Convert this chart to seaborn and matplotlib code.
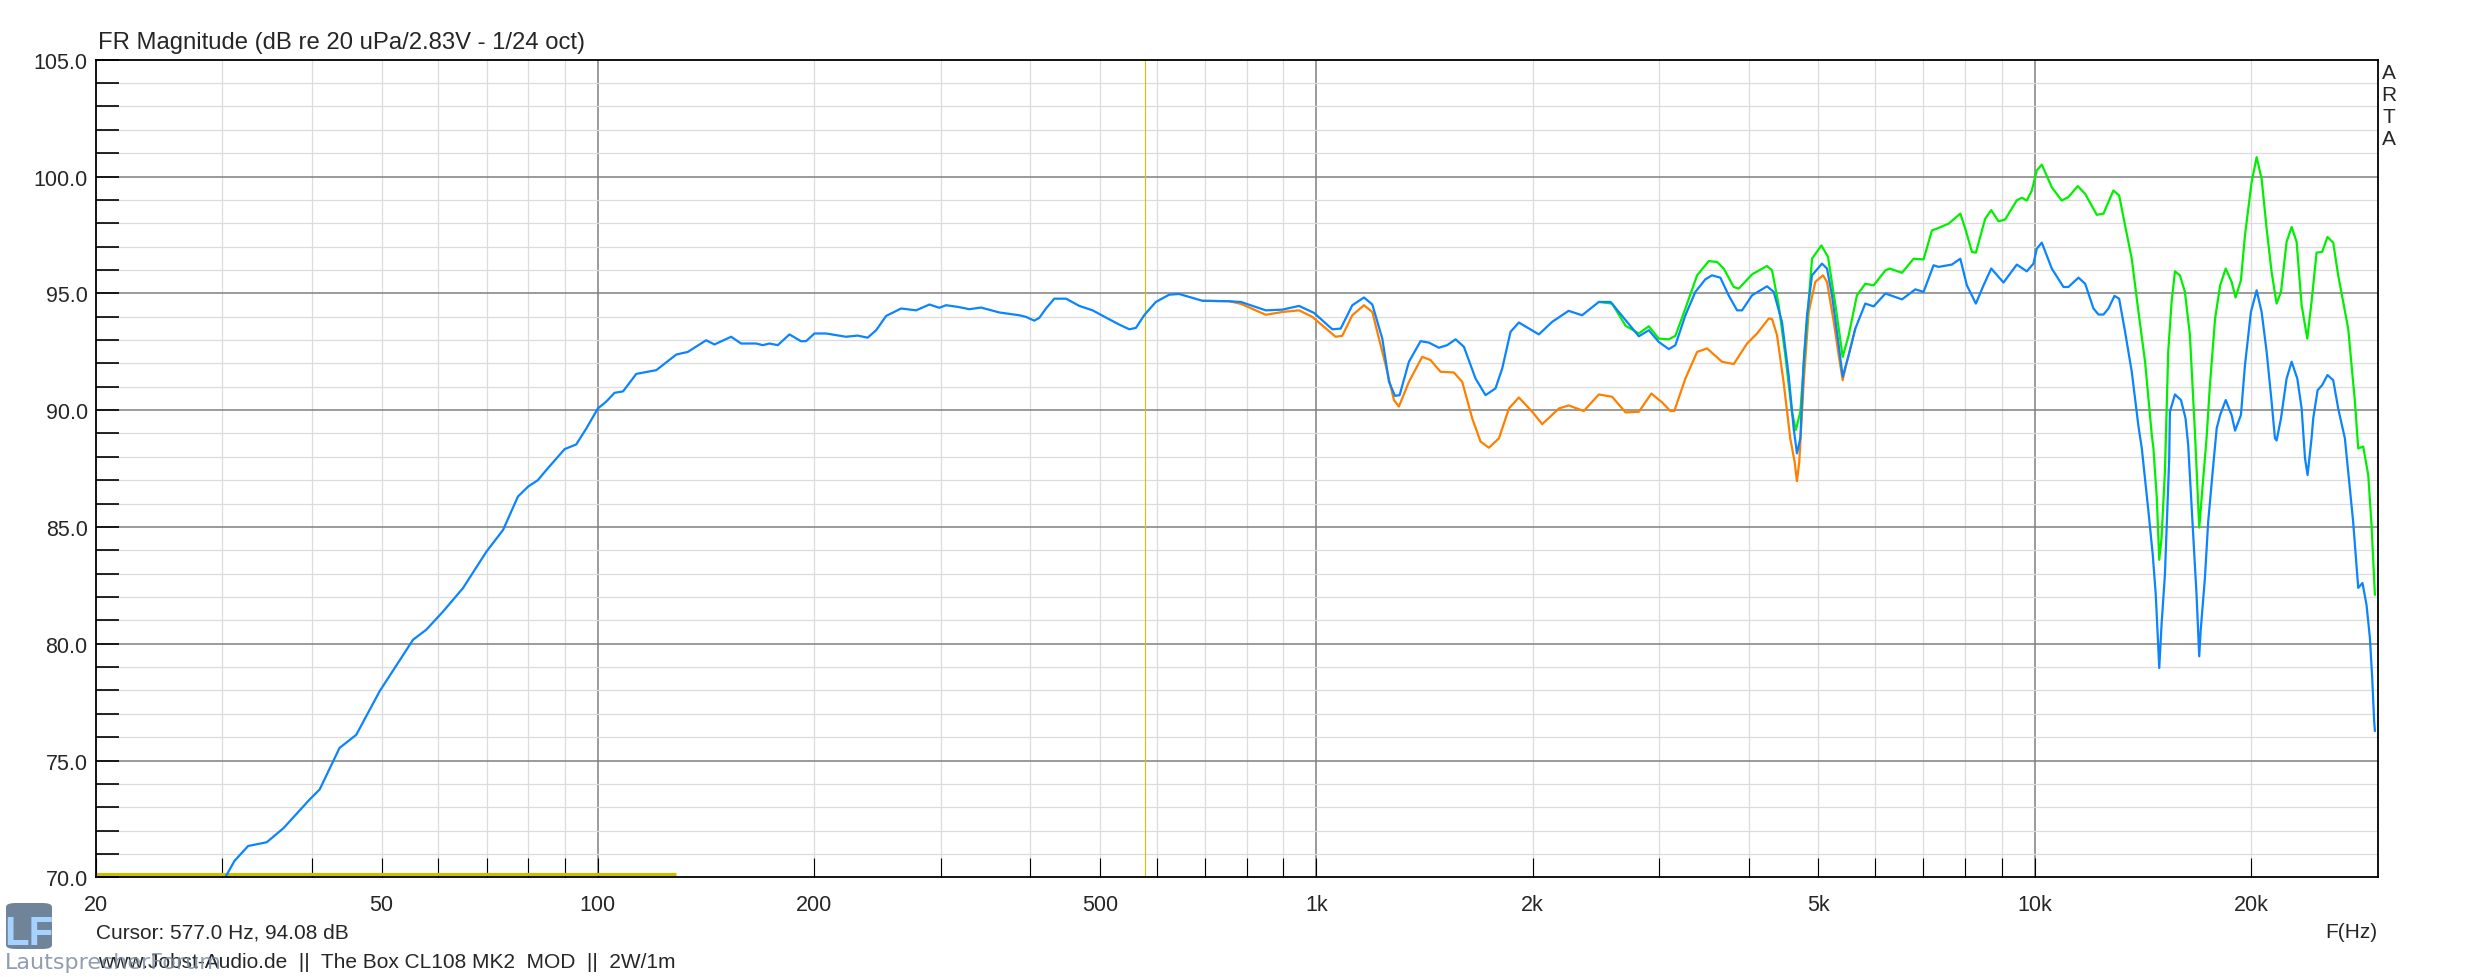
import numpy as np
import matplotlib
matplotlib.use("Agg")
import matplotlib.pyplot as plt
import seaborn as sns
from matplotlib.patches import FancyBboxPatch

blue_f = [30.3, 31.2, 32.6, 34.6, 36.5, 39.7, 41.0, 43.7, 46.1, 49.7, 55.3, 57.7, 60.9, 64.9, 70.0,
          73.8, 77.4, 80.0, 82.5, 84.8, 89.9, 93.3, 96.4, 100, 102.7, 105.5, 108.4, 113.1, 120.6,
          128.6, 133.4, 141.5, 145.3, 153.3, 158.3, 166.1, 169.7, 173.3, 178.0, 184.8, 191.7,
          194.9, 200.2, 207.8, 221.5, 229.9, 237.4, 244.0, 251.9, 264.3, 277.3, 289.4, 298.8,
          305.3, 316.8, 328.9, 341.5, 362, 386, 394.4, 405, 411.6, 420.5, 431.9, 448.4, 467.9,
          488.3, 509.7, 531.9, 549.2, 561, 576.6, 598, 624, 644.3, 694.3, 756.3, 785.2, 850.6,
          897, 946.2, 992.8, 1052.6, 1081.3, 1122.4, 1165.1, 1196.7, 1235.6, 1262.4, 1286.7,
          1306.1, 1345.7, 1396.8, 1434.6, 1481.3, 1521.2, 1562.7, 1605, 1666, 1720.2, 1776.1,
          1814.6, 1863.7, 1914.1, 2040.9, 2130, 2245, 2344, 2473.5, 2568, 2694.5, 2812, 2903,
          2997, 3095, 3161, 3264, 3370, 3480, 3555, 3651, 3750, 3852, 3914, 4041, 4240, 4332,
          4448, 4544, 4618, 4667, 4718, 4769, 4820, 4898, 5057, 5139, 5222, 5335, 5404, 5508,
          5627, 5810, 5968, 6196, 6535, 6820, 7003, 7231, 7348, 7668, 7878, 8046, 8281, 8487,
          8699, 9048, 9442, 9749, 9960, 10067, 10229, 10562, 10966, 11141, 11504, 11754, 12072,
          12267, 12465, 12665, 12913, 13107, 13360, 13648, 13945, 14095, 14398, 14599, 14740,
          14905, 15015, 15178, 15306, 15389, 15423, 15674, 15978, 16215, 16354, 16619, 16798,
          16943, 17018, 17254, 17437, 17723, 17918, 18116, 18445, 18795, 19006, 19365, 19617,
          19995, 20366, 20693, 21028, 21366, 21597, 21712, 22019, 22418, 22783, 23200, 23524,
          23780, 23977, 24283, 24417, 24760, 25125, 25557, 26030, 26450, 27022, 27310, 27746,
          28043, 28203, 28590, 28961, 29277, 29495, 29680, 29750]
blue_db = [70.0, 70.7, 71.34, 71.5, 72.1, 73.33, 73.76, 75.54, 76.1, 77.97, 80.17, 80.6, 81.38, 82.38,
           83.95, 84.87, 86.3, 86.73, 87.0, 87.44, 88.33, 88.53, 89.22, 90.07, 90.36, 90.74, 90.8,
           91.55, 91.71, 92.38, 92.49, 92.99, 92.81, 93.14, 92.85, 92.85, 92.78, 92.85, 92.78,
           93.24, 92.95, 92.95, 93.28, 93.28, 93.14, 93.19, 93.1, 93.42, 94.03, 94.35, 94.27,
           94.52, 94.38, 94.49, 94.42, 94.32, 94.39, 94.18, 94.06, 93.99, 93.83, 93.95, 94.35,
           94.77, 94.77, 94.46, 94.27, 93.96, 93.66, 93.46, 93.52, 94.08, 94.63, 94.94, 94.97,
           94.68, 94.66, 94.63, 94.27, 94.3, 94.46, 94.16, 93.46, 93.49, 94.49, 94.82, 94.52,
           93.06, 91.21, 90.61, 90.64, 92.07, 92.95, 92.89, 92.67, 92.78, 93.03, 92.71, 91.35,
           90.64, 90.93, 91.78, 93.35, 93.75, 93.24, 93.78, 94.25, 94.06, 94.63, 94.63, 93.85,
           93.16, 93.42, 92.92, 92.61, 92.78, 94.06, 95.06, 95.6, 95.77, 95.67, 94.91, 94.27,
           94.27, 94.91, 95.3, 95.06, 93.78, 91.5, 89.22, 88.15, 88.79, 92.07, 94.06, 95.77,
           96.27, 96.06, 94.91, 92.78, 91.43, 92.35, 93.49, 94.56, 94.44, 94.99, 94.74, 95.17,
           95.06, 96.2, 96.13, 96.23, 96.48, 95.34, 94.56, 95.34, 96.06, 95.46, 96.23, 95.94,
           96.27, 96.91, 97.17, 96.06, 95.27, 95.27, 95.67, 95.41, 94.35, 94.09, 94.09, 94.35,
           94.89, 94.77, 93.35, 91.64, 89.3, 88.36, 85.66, 83.8, 82.09, 78.96, 80.81, 82.95,
           85.94, 87.94, 89.93, 90.67, 90.43, 89.65, 88.5, 84.66, 82.09, 79.46, 80.53, 82.81,
           85.23, 87.65, 89.22, 89.79, 90.43, 89.79, 89.12, 89.79, 91.92, 94.2, 95.13, 94.2,
           92.5, 90.36, 88.79, 88.7, 89.65, 91.35, 92.07, 91.35, 90.07, 87.94, 87.22, 88.79,
           89.65, 90.85, 91.07, 91.5, 91.28, 90.07, 88.79, 87.37, 85.23, 83.38, 82.39, 82.6,
           81.67, 80.25, 78.54, 76.69, 76.26]

orange_f = [694.3, 756.3, 785.2, 850.6, 897, 946.2, 987.5, 1063.9, 1086.7, 1122.4, 1165.1, 1196.7,
            1249, 1282.6, 1303.1, 1345.7, 1404.1, 1442.3, 1489.2, 1554.2, 1596.3, 1648.2, 1693,
            1739, 1795.7, 1854.1, 1914.1, 1997.9, 2062.8, 2176.6, 2245, 2356.6, 2473.5, 2581,
            2694.5, 2812, 2927, 3029, 3111, 3150, 3264, 3389, 3499, 3670, 3811, 3977, 4107, 4264,
            4309, 4378, 4471, 4568, 4632, 4667, 4702, 4769, 4846, 4950, 5073, 5139, 5251, 5335,
            5404, 5478, 5627]
orange_db = [94.68, 94.66, 94.55, 94.08, 94.2, 94.27, 93.99, 93.14, 93.18, 94.06, 94.49, 94.2,
             91.92, 90.43, 90.15, 91.21, 92.28, 92.14, 91.64, 91.61, 91.21, 89.65, 88.65, 88.39,
             88.79, 90.07, 90.54, 89.93, 89.4, 90.07, 90.2, 89.96, 90.67, 90.57, 89.9, 89.93,
             90.71, 90.33, 89.96, 89.96, 91.35, 92.49, 92.64, 92.07, 91.97, 92.85, 93.28, 93.92,
             93.9, 93.21, 91.21, 88.79, 87.79, 86.96, 87.79, 91.21, 94.2, 95.49, 95.77, 95.49,
             93.78, 92.35, 91.28, 92.07, 93.49]

green_f = [2473.5, 2581, 2694.5, 2812, 2903, 2997, 3095, 3161, 3264, 3389, 3518, 3613, 3691, 3811,
           3873, 4041, 4240, 4309, 4402, 4496, 4592, 4651, 4718, 4795, 4898, 5047, 5155, 5280,
           5404, 5508, 5656, 5810, 5968, 6196, 6280, 6535, 6783, 7003, 7193, 7309, 7588, 7878,
           8004, 8178, 8281, 8531, 8699, 8904, 9095, 9442, 9594, 9749, 9907, 10067, 10229, 10562,
           10904, 11141, 11477, 11754, 12200, 12465, 12868, 13107, 13360, 13648, 13945, 14243,
           14553, 14630, 14789, 14905, 15015, 15178, 15340, 15506, 15674, 15926, 16183, 16444,
           16709, 16798, 16943, 17162, 17345, 17533, 17826, 18116, 18445, 18795, 19037, 19365,
           19617, 20041, 20366, 20693, 21028, 21366, 21712, 22019, 22418, 22783, 23149, 23524,
           23955, 24283, 24677, 25125, 25557, 26030, 26450, 27310, 27906, 28203, 28657, 29122,
           29432, 29750]
green_db = [94.63, 94.56, 93.61, 93.28, 93.59, 93.06, 93.03, 93.18, 94.35, 95.77, 96.38, 96.34,
            96.06, 95.27, 95.2, 95.81, 96.17, 95.98, 94.49, 92.35, 89.93, 89.15, 89.93, 92.92,
            96.48, 97.05, 96.56, 94.49, 92.28, 93.2, 94.91, 95.41, 95.34, 95.98, 96.06, 95.88,
            96.48, 96.45, 97.69, 97.77, 97.98, 98.41, 97.77, 96.77, 96.74, 98.19, 98.56, 98.08,
            98.16, 98.98, 99.09, 98.97, 99.4, 100.26, 100.51, 99.54, 98.97, 99.12, 99.59, 99.26,
            98.36, 98.41, 99.4, 99.19, 97.9, 96.48, 94.2, 92.07, 88.93, 88.36, 86.23, 83.59,
            84.52, 87.37, 92.5, 94.63, 95.94, 95.77, 95.06, 93.21, 89.08, 87.51, 84.97, 87.08,
            88.79, 91.07, 93.92, 95.34, 96.06, 95.49, 94.82, 95.56, 97.48, 99.76, 100.83, 99.9,
            97.77, 95.91, 94.56, 95.06, 97.2, 97.84, 97.2, 94.49, 93.06, 94.63, 96.74, 96.77,
            97.41, 97.17, 95.77, 93.49, 90.36, 88.36, 88.44, 87.22, 85.09, 82.09]

cursor_f = 577.0
marker_f = [20, 128.5]
marker_db = [70.15, 70.15]

x_ticks = [20, 30, 40, 50, 60, 70, 80, 90, 100, 200, 300, 400, 500, 600, 700, 800, 900, 1000,
           2000, 3000, 4000, 5000, 6000, 7000, 8000, 9000, 10000, 20000]
x_labels = {20: "20", 50: "50", 100: "100", 200: "200", 500: "500", 1000: "1k", 2000: "2k",
            5000: "5k", 10000: "10k", 20000: "20k"}

W, H = 2473, 978

sns.set_style("white")
plt.rcParams['font.family'] = ['Liberation Sans', 'DejaVu Sans']

fig = plt.figure(figsize=(W / 100, H / 100), dpi=100)
ax = fig.add_axes([95.7 / W, 1 - 878.3 / H, (2377.5 - 95.7) / W, (878.3 - 60.7) / H])
ax.set_xscale("log")

# gitter
for f in x_ticks[1:]:
    major = f in (100, 1000, 10000)
    ax.axvline(f, color="#808080" if major else "#dcdcdc", lw=1.1 if major else 0.9, zorder=0.5)
for d in range(71, 105):
    major = d % 5 == 0
    ax.axhline(d, color="#808080" if major else "#dcdcdc", lw=1.1 if major else 0.9, zorder=0.5)

ax.axvline(cursor_f, color="#cfc400", lw=0.8, zorder=1)
ax.plot(marker_f, marker_db, color="#c8c000", lw=2.3, zorder=1, solid_capstyle="butt")

sns.lineplot(x=orange_f, y=orange_db, ax=ax, color="#ff8000", linewidth=1.6,
             estimator=None, sort=False, zorder=3)
sns.lineplot(x=green_f, y=green_db, ax=ax, color="#00f000", linewidth=1.6,
             estimator=None, sort=False, zorder=4)
sns.lineplot(x=blue_f, y=blue_db, ax=ax, color="#0a84ff", linewidth=1.6,
             estimator=None, sort=False, zorder=5)

ax.set_xlim(20, 30000)
ax.set_ylim(70, 105)
ax.xaxis.set_minor_locator(matplotlib.ticker.NullLocator())
ax.set_xticks(x_ticks)
ax.set_xticklabels([x_labels.get(f, "") for f in x_ticks])
ax.set_yticks(range(70, 106))
ax.set_yticklabels(["%.1f" % d if d % 5 == 0 else "" for d in range(70, 106)])
ax.tick_params(axis="x", direction="in", length=13.7, width=0.8, color="black",
               labelsize=15.5, pad=12, bottom=True, top=False)
ax.tick_params(axis="y", direction="in", length=16.5, width=1.2, color="black",
               labelsize=15.5, pad=5.8, left=True, right=False)
ax.set_xlabel("")
ax.set_ylabel("")
ax.grid(False)
for s in ax.spines.values():
    s.set_color("black")
    s.set_linewidth(1.3)
    s.set_zorder(6)

# texte
def px(x, y):
    return x / W, 1 - y / H

fig.text(*px(98, 49), "FR Magnitude (dB re 20 uPa/2.83V - 1/24 oct)", fontsize=17.2, va="baseline")
for ch, yb in zip("ARTA", [79, 101, 122.7, 145]):
    fig.text(*px(2389, yb), ch, fontsize=15, ha="center", va="baseline")
fig.text(*px(96.4, 939), "Cursor: 577.0 Hz, 94.08 dB", fontsize=15, va="baseline")
fig.text(*px(97.6, 968.3), "www.Jobst-Audio.de  ||  The Box CL108 MK2  MOD  ||  2W/1m",
         fontsize=15, va="baseline")
fig.text(*px(2377, 938), "F(Hz)", fontsize=15, ha="right", va="baseline")

# LF logo
logo = FancyBboxPatch((6 / W, 1 - 950 / H), 46 / W, 46 / H, boxstyle="round,pad=0,rounding_size=0.004",
                      transform=fig.transFigure, facecolor="#6f8399", edgecolor="none", zorder=7)
fig.patches.append(logo)
fig.text(*px(29, 945), "LF", fontsize=29, fontweight="bold", color="#a6d2ff", ha="center",
         va="baseline", zorder=8)
fig.text(*px(5, 969), "LautsprecherForum", fontsize=16, family="DejaVu Sans", color="#7d8da1",
         alpha=0.85, va="baseline", zorder=8)

fig.savefig("out.png", dpi=100)
